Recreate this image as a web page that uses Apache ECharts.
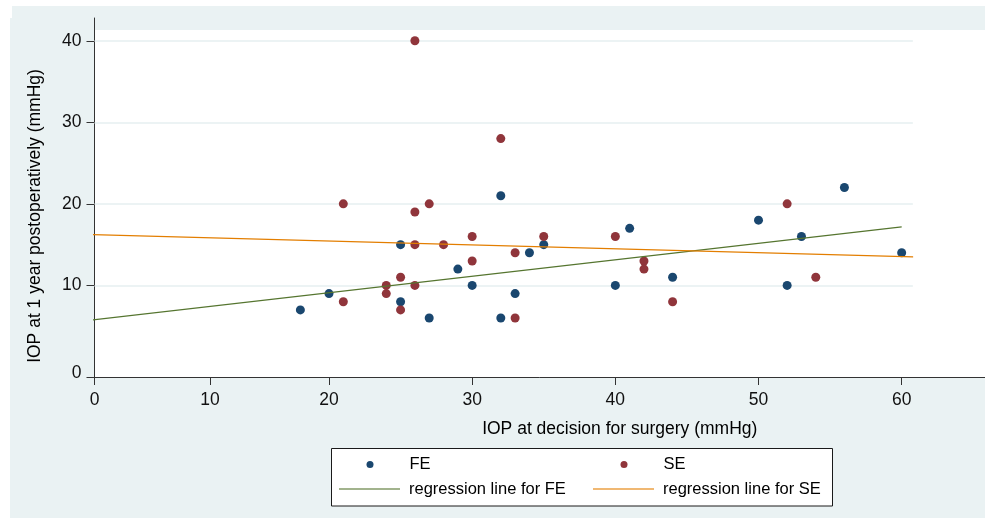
<!DOCTYPE html>
<html>
<head>
<meta charset="utf-8">
<script src="https://cdn.jsdelivr.net/npm/echarts@6/dist/echarts.min.js"></script>
<style>
  html, body { margin: 0; padding: 0; background: #ffffff; overflow: hidden; }
  #band { position: absolute; left: 12px; top: 6px; width: 973px; height: 24px; background: #EAF2F3; }
  #outer { position: absolute; left: 10px; top: 18px; width: 975px; height: 500px; background: #EAF2F3; }
  #plot { position: absolute; left: 95px; top: 30px; width: 890px; height: 347px; background: #ffffff; }
  #chart { position: absolute; left: 0; top: 0; width: 985px; height: 518px; }
</style>
</head>
<body>
<div id="band"></div>
<div id="outer"></div>
<div id="plot"></div>
<div id="chart"></div>
<script>
// ---- data ----
const feX = [18, 20, 25, 25, 27, 29, 30, 32, 32, 33, 34, 35, 40, 41, 44, 50, 52, 53, 56, 60];
const feY = [7, 9, 15, 8, 6, 12, 10, 21, 6, 9, 14, 15, 10, 17, 11, 18, 10, 16, 22, 14];
const seX = [21, 21, 24, 24, 25, 25, 26, 26, 26, 26, 27, 28, 30, 30, 32, 33, 33, 35, 40, 42, 42, 44, 52, 54];
const seY = [20, 8, 10, 9, 11, 7, 40, 19, 15, 10, 20, 15, 16, 13, 28, 14, 6, 16, 16, 13, 12, 8, 20, 11];
const feFitRange = [2.5, 60];
const seFitRange = [2.25, 60.8];
const xTickLabels = ['0', '10', '20', '30', '40', '50', '60'];
const yTickLabels = ['0', '10', '20', '30', '40'];
const yGridValues = [10, 20, 30, 40];
const seriesNames = ['FE', 'SE', 'regression line for FE', 'regression line for SE'];
const xTitle = 'IOP at decision for surgery (mmHg)';
const yTitle = 'IOP at 1 year postoperatively (mmHg)';

// ---- helpers ----
function ols(xs, ys) {
  const n = xs.length;
  const mx = xs.reduce((a, b) => a + b, 0) / n;
  const my = ys.reduce((a, b) => a + b, 0) / n;
  let sxy = 0, sxx = 0;
  for (let i = 0; i < n; i++) { sxy += (xs[i] - mx) * (ys[i] - my); sxx += (xs[i] - mx) * (xs[i] - mx); }
  const b = sxy / sxx;
  return { a: my - b * mx, b: b };
}
function fitLine(xs, ys, range) {
  const f = ols(xs, ys);
  return range.map(x => [x, f.a + f.b * x]);
}
const zip = (xs, ys) => xs.map((x, i) => [x, ys[i]]);

// axis extents (the reference axis is uneven near the origin; data region is linear)
const xMin = 3.621, xMax = 65.82, xGridEnd = 60.78;
const yMin = -1.23, yMax = 42.79;
const xTickPos = [xMin, 11.69, 20, 30, 40, 50, 60];
const yTickPos = [yMin, 10, 20, 30, 40];
const yLabelPos = [-0.8, 10, 20, 30, 40];
const xLabelMap = {}; xTickPos.forEach((v, i) => { xLabelMap[v] = xTickLabels[i]; });
const yLabelMap = {}; yLabelPos.forEach((v, i) => { yLabelMap[v] = yTickLabels[i]; });

const FONT = '"Liberation Sans", Arial, Helvetica, sans-serif';
const BLUE = '#1a476f', RED = '#90353b', GREEN = '#55752f', ORANGE = '#e37e00';

function legendItem(name, icon, left, top, itemHeight, opacity) {
  return {
    orient: 'horizontal', padding: 0, itemGap: 0, itemWidth: 61, itemHeight: itemHeight,
    left: left, top: top, selectedMode: false,
    textStyle: { fontFamily: FONT, fontSize: 16.5, color: '#000', padding: [0, 0, 0, 4] },
    data: [{ name: name, icon: icon, itemStyle: { opacity: opacity } }]
  };
}

const chart = echarts.init(document.getElementById('chart'), null, { renderer: 'canvas' });
chart.setOption({
  animation: false,
  backgroundColor: 'transparent',
  textStyle: { fontFamily: FONT },
  grid: { left: 94.5, right: 0, top: 18, bottom: 141, containLabel: false },
  xAxis: {
    type: 'value', min: xMin, max: xMax,
    name: xTitle, nameLocation: 'middle', nameGap: 43,
    nameTextStyle: { fontFamily: FONT, fontSize: 17.5, color: '#000', padding: [0, 0, 0, 160] },
    axisLine: { show: true, onZero: false, lineStyle: { color: '#333', width: 1 } },
    axisTick: { show: true, length: 8, customValues: xTickPos, lineStyle: { color: '#333' } },
    axisLabel: { customValues: xTickPos, margin: 14, fontSize: 17.5, color: '#111', fontFamily: FONT,
      showMinLabel: true, formatter: v => xLabelMap[v] !== undefined ? xLabelMap[v] : '' },
    splitLine: { show: false }
  },
  yAxis: {
    type: 'value', min: yMin, max: yMax,
    name: yTitle, nameLocation: 'middle', nameGap: 50,
    nameTextStyle: { fontFamily: FONT, fontSize: 17.5, color: '#000', padding: [0, 37, 0, 0] },
    axisLine: { show: true, onZero: false, lineStyle: { color: '#333', width: 1 } },
    axisTick: { show: true, length: 8, customValues: yTickPos, lineStyle: { color: '#333' } },
    axisLabel: { customValues: yLabelPos, margin: 13, fontSize: 17.5, color: '#111', fontFamily: FONT,
      showMinLabel: true, formatter: v => yLabelMap[v] !== undefined ? yLabelMap[v] : '' },
    splitLine: { show: false }
  },
  legend: [
    legendItem(seriesNames[0], 'circle', 366.5, 456, 7, 1),
    legendItem(seriesNames[1], 'circle', 620.5, 456, 7, 1),
    legendItem(seriesNames[2], 'rect', 339, 480.5, 2, 0.55),
    legendItem(seriesNames[3], 'rect', 593, 480.5, 2, 0.55)
  ],
  graphic: [
    { type: 'rect', z: 0, shape: { x: 331.5, y: 448.5, width: 501, height: 57.5 },
      style: { fill: '#ffffff', stroke: '#1a1a1a', lineWidth: 1 } }
  ],
  series: [
    {
      name: 'grid', type: 'line', data: [], silent: true, z: 1,
      markLine: {
        silent: true, z: 1, symbol: ['none', 'none'], label: { show: false },
        lineStyle: { color: '#E6EFF0', width: 1.5, type: 'solid' },
        emphasis: { disabled: true },
        data: yGridValues.map(v => [{ coord: [xMin, v] }, { coord: [xGridEnd, v] }])
      }
    },
    { name: seriesNames[0], type: 'scatter', z: 2, symbol: 'circle', symbolSize: 9,
      itemStyle: { color: BLUE, opacity: 1 }, data: zip(feX, feY) },
    { name: seriesNames[1], type: 'scatter', z: 2, symbol: 'circle', symbolSize: 9,
      itemStyle: { color: RED, opacity: 1 }, data: zip(seX, seY) },
    { name: seriesNames[2], type: 'line', z: 3, symbol: 'none', clip: false,
      itemStyle: { color: GREEN }, lineStyle: { color: GREEN, width: 1.2 },
      data: fitLine(feX, feY, feFitRange) },
    { name: seriesNames[3], type: 'line', z: 3, symbol: 'none', clip: false,
      itemStyle: { color: ORANGE }, lineStyle: { color: ORANGE, width: 1.3 },
      data: fitLine(seX, seY, seFitRange) }
  ]
});
</script>
</body>
</html>
